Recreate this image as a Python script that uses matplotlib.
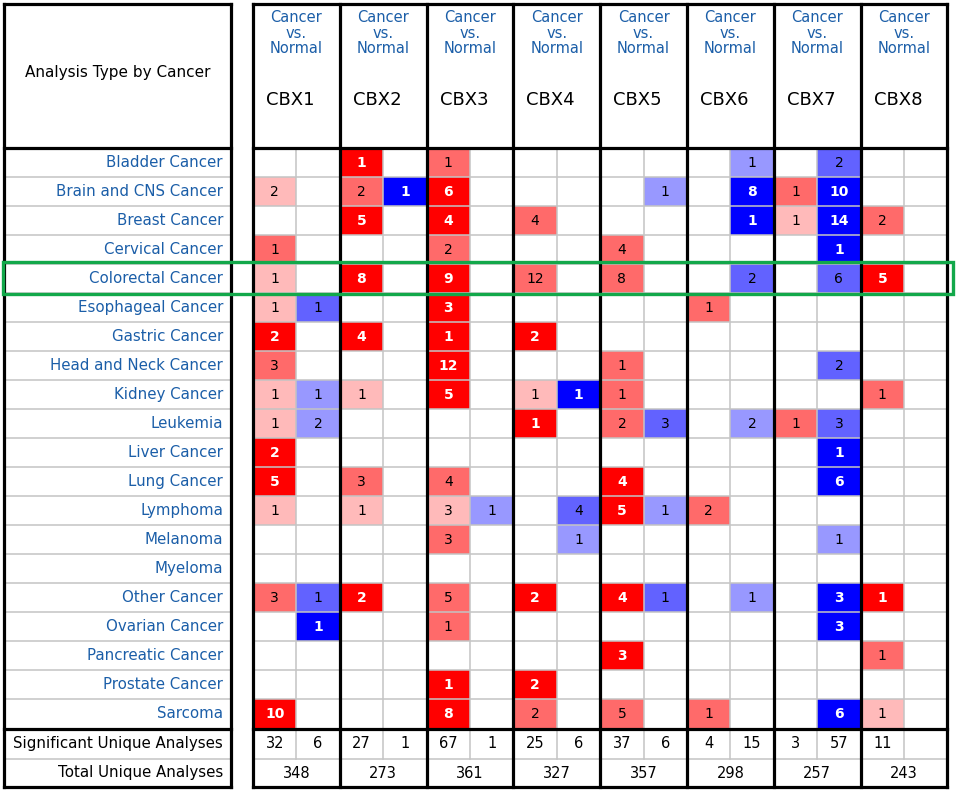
import matplotlib
matplotlib.use("Agg")
import matplotlib.pyplot as plt
from matplotlib.patches import Rectangle

# dados do painel (Oncomine: Cancer vs. Normal)
genes = ["CBX1", "CBX2", "CBX3", "CBX4", "CBX5", "CBX6", "CBX7", "CBX8"]
cancers = ["Bladder Cancer", "Brain and CNS Cancer", "Breast Cancer", "Cervical Cancer",
           "Colorectal Cancer", "Esophageal Cancer", "Gastric Cancer", "Head and Neck Cancer",
           "Kidney Cancer", "Leukemia", "Liver Cancer", "Lung Cancer", "Lymphoma",
           "Melanoma", "Myeloma", "Other Cancer", "Ovarian Cancer", "Pancreatic Cancer",
           "Prostate Cancer", "Sarcoma"]

# numero de analises com sobre-expressao (linhas = cancer, colunas = gene)
up_counts = [
    [0, 1, 1, 0, 0, 0, 0, 0],
    [2, 2, 6, 0, 0, 0, 1, 0],
    [0, 5, 4, 4, 0, 0, 1, 2],
    [1, 0, 2, 0, 4, 0, 0, 0],
    [1, 8, 9, 12, 8, 0, 0, 5],
    [1, 0, 3, 0, 0, 1, 0, 0],
    [2, 4, 1, 2, 0, 0, 0, 0],
    [3, 0, 12, 0, 1, 0, 0, 0],
    [1, 1, 5, 1, 1, 0, 0, 1],
    [1, 0, 0, 1, 2, 0, 1, 0],
    [2, 0, 0, 0, 0, 0, 0, 0],
    [5, 3, 4, 0, 4, 0, 0, 0],
    [1, 1, 3, 0, 5, 2, 0, 0],
    [0, 0, 3, 0, 0, 0, 0, 0],
    [0, 0, 0, 0, 0, 0, 0, 0],
    [3, 2, 5, 2, 4, 0, 0, 1],
    [0, 0, 1, 0, 0, 0, 0, 0],
    [0, 0, 0, 0, 3, 0, 0, 1],
    [0, 0, 1, 2, 0, 0, 0, 0],
    [10, 0, 8, 2, 5, 1, 0, 1],
]

# numero de analises com sub-expressao
down_counts = [
    [0, 0, 0, 0, 0, 1, 2, 0],
    [0, 1, 0, 0, 1, 8, 10, 0],
    [0, 0, 0, 0, 0, 1, 14, 0],
    [0, 0, 0, 0, 0, 0, 1, 0],
    [0, 0, 0, 0, 0, 2, 6, 0],
    [1, 0, 0, 0, 0, 0, 0, 0],
    [0, 0, 0, 0, 0, 0, 0, 0],
    [0, 0, 0, 0, 0, 0, 2, 0],
    [1, 0, 0, 1, 0, 0, 0, 0],
    [2, 0, 0, 0, 3, 2, 3, 0],
    [0, 0, 0, 0, 0, 0, 1, 0],
    [0, 0, 0, 0, 0, 0, 6, 0],
    [0, 0, 1, 4, 1, 0, 0, 0],
    [0, 0, 0, 1, 0, 0, 1, 0],
    [0, 0, 0, 0, 0, 0, 0, 0],
    [1, 0, 0, 0, 1, 1, 3, 0],
    [1, 0, 0, 0, 0, 0, 3, 0],
    [0, 0, 0, 0, 0, 0, 0, 0],
    [0, 0, 0, 0, 0, 0, 0, 0],
    [0, 0, 0, 0, 0, 0, 6, 0],
]

# classe do gene rank (1 = fraco, 3 = forte)
up_rank = [
    [0, 3, 2, 0, 0, 0, 0, 0],
    [1, 2, 3, 0, 0, 0, 2, 0],
    [0, 3, 3, 2, 0, 0, 1, 2],
    [2, 0, 2, 0, 2, 0, 0, 0],
    [1, 3, 3, 2, 2, 0, 0, 3],
    [1, 0, 3, 0, 0, 2, 0, 0],
    [3, 3, 3, 3, 0, 0, 0, 0],
    [2, 0, 3, 0, 2, 0, 0, 0],
    [1, 1, 3, 1, 2, 0, 0, 2],
    [1, 0, 0, 3, 2, 0, 2, 0],
    [3, 0, 0, 0, 0, 0, 0, 0],
    [3, 2, 2, 0, 3, 0, 0, 0],
    [1, 1, 1, 0, 3, 2, 0, 0],
    [0, 0, 2, 0, 0, 0, 0, 0],
    [0, 0, 0, 0, 0, 0, 0, 0],
    [2, 3, 2, 3, 3, 0, 0, 3],
    [0, 0, 2, 0, 0, 0, 0, 0],
    [0, 0, 0, 0, 3, 0, 0, 2],
    [0, 0, 3, 3, 0, 0, 0, 0],
    [3, 0, 3, 2, 2, 2, 0, 1],
]

down_rank = [
    [0, 0, 0, 0, 0, 1, 2, 0],
    [0, 3, 0, 0, 1, 3, 3, 0],
    [0, 0, 0, 0, 0, 3, 3, 0],
    [0, 0, 0, 0, 0, 0, 3, 0],
    [0, 0, 0, 0, 0, 2, 2, 0],
    [2, 0, 0, 0, 0, 0, 0, 0],
    [0, 0, 0, 0, 0, 0, 0, 0],
    [0, 0, 0, 0, 0, 0, 2, 0],
    [1, 0, 0, 3, 0, 0, 0, 0],
    [1, 0, 0, 0, 2, 1, 2, 0],
    [0, 0, 0, 0, 0, 0, 3, 0],
    [0, 0, 0, 0, 0, 0, 3, 0],
    [0, 0, 1, 2, 1, 0, 0, 0],
    [0, 0, 0, 1, 0, 0, 1, 0],
    [0, 0, 0, 0, 0, 0, 0, 0],
    [2, 0, 0, 0, 2, 1, 3, 0],
    [3, 0, 0, 0, 0, 0, 3, 0],
    [0, 0, 0, 0, 0, 0, 0, 0],
    [0, 0, 0, 0, 0, 0, 0, 0],
    [0, 0, 0, 0, 0, 0, 3, 0],
]

sig_up = [32, 27, 67, 25, 37, 4, 3, 11]
sig_down = [6, 1, 1, 6, 6, 15, 57, None]
total_analyses = [348, 273, 361, 327, 357, 298, 257, 243]
highlight = "Colorectal Cancer"

# estilos
red = {1: "#ffbaba", 2: "#ff6a6a", 3: "#ff0000"}
blue = {1: "#9898ff", 2: "#6262ff", 3: "#0000ff"}
azul_txt = "#1b5ea8"
cinza = "#c4c4c4"
LW_GROSSA = 2.3
LW_FINA = 1.1

# geometria em pixels
L0, L1 = 4, 231          # tabela de rotulos
M0, GW = 253, 86.8       # tabela principal
M1 = M0 + GW * len(genes)
TOP, HDR = 4, 147.5
RH = 29.05
R_END = HDR + RH * len(cancers)
SIG_END = R_END + 30.5
BOT = 787

fig = plt.figure(figsize=(9.56, 7.92), dpi=100)
ax = fig.add_axes([0, 0, 1, 1])
ax.set_xlim(0, 956)
ax.set_ylim(792, 0)
ax.axis("off")

# celulas coloridas
for i in range(len(cancers)):
    y = HDR + i * RH
    for j in range(len(genes)):
        x = M0 + j * GW
        for k, (cnt, rk, pal) in enumerate([(up_counts[i][j], up_rank[i][j], red),
                                            (down_counts[i][j], down_rank[i][j], blue)]):
            if cnt == 0:
                continue
            ax.add_patch(Rectangle((x + k * GW / 2, y), GW / 2, RH, facecolor=pal[rk],
                                   edgecolor="none", zorder=1))
            ax.text(x + k * GW / 2 + GW / 4, y + RH / 2 + 0.5, str(cnt), ha="center", va="center",
                    fontsize=10, color="white" if rk == 3 else "black",
                    fontweight="semibold" if rk == 3 else "normal", zorder=4)

# linhas finas horizontais
for i in range(1, len(cancers)):
    y = HDR + i * RH
    ax.plot([L0, L1], [y, y], color=cinza, lw=LW_FINA, zorder=2)
    ax.plot([M0, M1], [y, y], color=cinza, lw=LW_FINA, zorder=2)
ax.plot([L0, L1], [SIG_END, SIG_END], color=cinza, lw=LW_FINA, zorder=2)
ax.plot([M0, M1], [SIG_END, SIG_END], color=cinza, lw=LW_FINA, zorder=2)

# linhas finas verticais (subcolunas)
for j in range(len(genes)):
    xm = M0 + j * GW + GW / 2
    ax.plot([xm, xm], [HDR, SIG_END], color=cinza, lw=LW_FINA, zorder=2)

# linhas grossas
for y in [TOP, HDR, R_END, BOT]:
    ax.plot([L0, L1], [y, y], color="black", lw=LW_GROSSA, zorder=3, solid_capstyle="projecting")
    ax.plot([M0, M1], [y, y], color="black", lw=LW_GROSSA, zorder=3, solid_capstyle="projecting")
for x in [L0, L1]:
    ax.plot([x, x], [TOP, BOT], color="black", lw=LW_GROSSA, zorder=3)
for j in range(len(genes) + 1):
    x = M0 + j * GW
    ax.plot([x, x], [TOP, BOT], color="black", lw=LW_GROSSA, zorder=3)

# cabecalho
ax.text((L0 + L1) / 2, 72, "Analysis Type by Cancer", ha="center", va="center", fontsize=11)
for j, g in enumerate(genes):
    x = M0 + j * GW
    ax.text(x + GW / 2, 33, "Cancer\nvs.\nNormal", ha="center", va="center", fontsize=10.5,
            color=azul_txt, linespacing=1.05)
    ax.text(x + 13, 100, g, ha="left", va="center", fontsize=13,
            family=["Liberation Sans Narrow", "DejaVu Sans"])

# rotulos das linhas
for i, c in enumerate(cancers):
    ax.text(L1 - 8, HDR + i * RH + RH / 2, c, ha="right", va="center", fontsize=10.8, color=azul_txt)
ax.text(L1 - 8, (R_END + SIG_END) / 2, "Significant Unique Analyses", ha="right", va="center", fontsize=10.8)
ax.text(L1 - 8, (SIG_END + BOT) / 2, "Total Unique Analyses", ha="right", va="center", fontsize=10.8)

# totais
for j in range(len(genes)):
    x = M0 + j * GW
    ax.text(x + GW / 4, (R_END + SIG_END) / 2, str(sig_up[j]), ha="center", va="center", fontsize=10.5)
    if sig_down[j] is not None:
        ax.text(x + 3 * GW / 4, (R_END + SIG_END) / 2, str(sig_down[j]), ha="center", va="center", fontsize=10.5)
    ax.text(x + GW / 2, (SIG_END + BOT) / 2, str(total_analyses[j]), ha="center", va="center", fontsize=10.5)

# destaque (caixa verde)
hi = cancers.index(highlight)
ax.add_patch(Rectangle((3, HDR + hi * RH - 1.5), 950, RH + 3, facecolor="none",
                       edgecolor="#12a84a", lw=2.4, zorder=5))

fig.savefig("out.png", dpi=100)
